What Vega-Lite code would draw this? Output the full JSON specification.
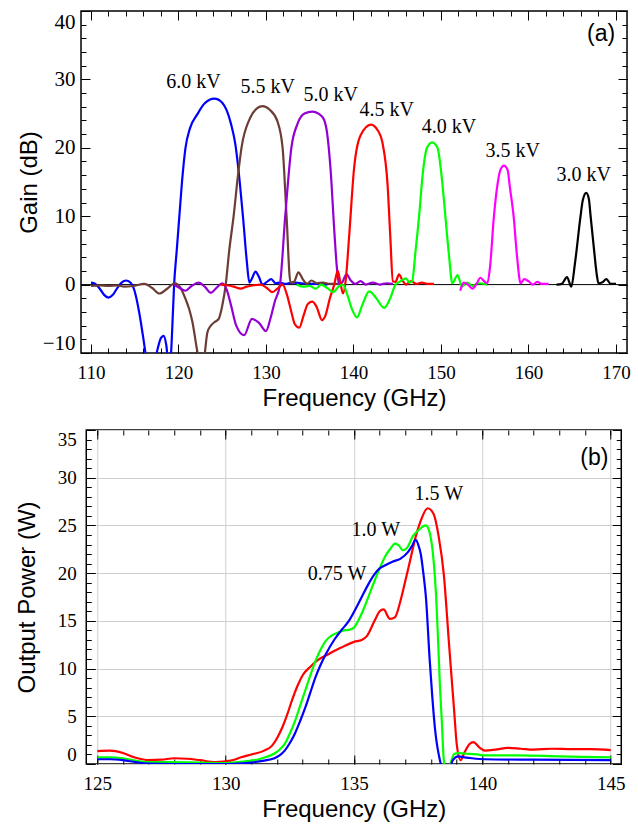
{
"$schema": "https://vega.github.io/schema/vega-lite/v6.json",
"padding": {"left": 14, "top": 9, "right": 0, "bottom": 0},
"spacing": 17,
"center": true,
"resolve": {"scale": {"color": "independent"}},
"config": {
 "view": {"stroke": "black", "strokeWidth": 1.5},
 "axis": {"domain": false, "grid": false, "labelFont": "Liberation Serif", "labelFontSize": 19, "labelColor": "black", "titleFont": "Liberation Sans", "titleFontSize": 24, "titleFontWeight": "normal", "titleColor": "black", "tickColor": "black", "tickWidth": 1},
 "text": {"font": "Liberation Serif", "fontSize": 20, "color": "black"}
},
"datasets": {
 "gain": [
{"f":110,"g":0.3,"s":"6.0 kV"},{"f":110.5,"g":0.1,"s":"6.0 kV"},{"f":111,"g":-0.6,"s":"6.0 kV"},{"f":111.5,"g":-1.5,"s":"6.0 kV"},{"f":112,"g":-1.9,"s":"6.0 kV"},{"f":112.5,"g":-1.5,"s":"6.0 kV"},{"f":113,"g":-0.5,"s":"6.0 kV"},{"f":113.5,"g":0.3,"s":"6.0 kV"},{"f":114,"g":0.6,"s":"6.0 kV"},{"f":114.5,"g":0.3,"s":"6.0 kV"},{"f":115,"g":-1.0,"s":"6.0 kV"},{"f":115.5,"g":-4,"s":"6.0 kV"},{"f":116,"g":-8,"s":"6.0 kV"},{"f":116.4,"g":-11.5,"s":"6.0 kV"},{"f":116.8,"g":-14,"s":"6.0 kV"},{"f":117.2,"g":-12,"s":"6.0 kV"},{"f":117.6,"g":-9.5,"s":"6.0 kV"},{"f":118,"g":-7.8,"s":"6.0 kV"},{"f":118.3,"g":-7.5,"s":"6.0 kV"},{"f":118.6,"g":-8.8,"s":"6.0 kV"},{"f":118.9,"g":-12,"s":"6.0 kV"},{"f":119.1,"g":-11,"s":"6.0 kV"},{"f":119.3,"g":-6,"s":"6.0 kV"},{"f":119.5,"g":0,"s":"6.0 kV"},{"f":119.8,"g":5,"s":"6.0 kV"},{"f":120.1,"g":10,"s":"6.0 kV"},{"f":120.4,"g":15,"s":"6.0 kV"},{"f":120.8,"g":20,"s":"6.0 kV"},{"f":121.3,"g":22.8,"s":"6.0 kV"},{"f":122.2,"g":25,"s":"6.0 kV"},{"f":123,"g":26.5,"s":"6.0 kV"},{"f":124.1,"g":27.2,"s":"6.0 kV"},{"f":125,"g":26.6,"s":"6.0 kV"},{"f":125.5,"g":25.5,"s":"6.0 kV"},{"f":126,"g":23.5,"s":"6.0 kV"},{"f":126.5,"g":20.5,"s":"6.0 kV"},{"f":127,"g":15,"s":"6.0 kV"},{"f":127.4,"g":9.5,"s":"6.0 kV"},{"f":127.8,"g":3.5,"s":"6.0 kV"},{"f":128.1,"g":0.3,"s":"6.0 kV"},{"f":128.4,"g":0.9,"s":"6.0 kV"},{"f":128.8,"g":1.9,"s":"6.0 kV"},{"f":129.2,"g":1.1,"s":"6.0 kV"},{"f":129.6,"g":0.0,"s":"6.0 kV"},{"f":130.1,"g":0.4,"s":"6.0 kV"},{"f":130.6,"g":0.8,"s":"6.0 kV"},{"f":131.1,"g":0.2,"s":"6.0 kV"},{"f":131.6,"g":0.3,"s":"6.0 kV"},{"f":132.2,"g":0.1,"s":"6.0 kV"},{"f":133,"g":0.3,"s":"6.0 kV"},{"f":134,"g":0.2,"s":"6.0 kV"},{"f":135,"g":0.1,"s":"6.0 kV"},{"f":136,"g":0.1,"s":"6.0 kV"},{"f":137,"g":0.0,"s":"6.0 kV"},
{"f":110,"g":-0.2,"s":"5.5 kV"},{"f":111,"g":-0.1,"s":"5.5 kV"},{"f":112,"g":-0.2,"s":"5.5 kV"},{"f":113,"g":-0.1,"s":"5.5 kV"},{"f":113.8,"g":-0.3,"s":"5.5 kV"},{"f":114.8,"g":-0.2,"s":"5.5 kV"},{"f":116.1,"g":0.1,"s":"5.5 kV"},{"f":117,"g":-0.5,"s":"5.5 kV"},{"f":117.8,"g":-1.3,"s":"5.5 kV"},{"f":118.7,"g":-0.6,"s":"5.5 kV"},{"f":119.6,"g":0.2,"s":"5.5 kV"},{"f":120.2,"g":-0.4,"s":"5.5 kV"},{"f":120.8,"g":-2.1,"s":"5.5 kV"},{"f":121.2,"g":-3.5,"s":"5.5 kV"},{"f":121.6,"g":-5.5,"s":"5.5 kV"},{"f":122.1,"g":-9.4,"s":"5.5 kV"},{"f":122.5,"g":-12,"s":"5.5 kV"},{"f":122.9,"g":-11,"s":"5.5 kV"},{"f":123.3,"g":-7,"s":"5.5 kV"},{"f":123.7,"g":-6,"s":"5.5 kV"},{"f":124.1,"g":-5.5,"s":"5.5 kV"},{"f":124.6,"g":-5.0,"s":"5.5 kV"},{"f":125.0,"g":-3.1,"s":"5.5 kV"},{"f":125.4,"g":0,"s":"5.5 kV"},{"f":125.8,"g":5,"s":"5.5 kV"},{"f":126.3,"g":10,"s":"5.5 kV"},{"f":126.8,"g":16,"s":"5.5 kV"},{"f":127.2,"g":20,"s":"5.5 kV"},{"f":128.2,"g":24.4,"s":"5.5 kV"},{"f":129,"g":25.8,"s":"5.5 kV"},{"f":129.6,"g":26.1,"s":"5.5 kV"},{"f":130.4,"g":25.6,"s":"5.5 kV"},{"f":131.3,"g":23.9,"s":"5.5 kV"},{"f":131.9,"g":20,"s":"5.5 kV"},{"f":132.35,"g":10,"s":"5.5 kV"},{"f":132.8,"g":0.3,"s":"5.5 kV"},{"f":133.2,"g":0.4,"s":"5.5 kV"},{"f":133.7,"g":1.8,"s":"5.5 kV"},{"f":134.2,"g":0.8,"s":"5.5 kV"},{"f":134.7,"g":0.1,"s":"5.5 kV"},{"f":135.2,"g":0.6,"s":"5.5 kV"},{"f":135.8,"g":0.2,"s":"5.5 kV"},{"f":136.5,"g":0.3,"s":"5.5 kV"},{"f":137.3,"g":0.1,"s":"5.5 kV"},{"f":138.3,"g":0.1,"s":"5.5 kV"},
{"f":119.5,"g":0,"s":"5.0 kV"},{"f":120,"g":-0.4,"s":"5.0 kV"},{"f":120.8,"g":-0.9,"s":"5.0 kV"},{"f":121.5,"g":-0.2,"s":"5.0 kV"},{"f":122.3,"g":0.3,"s":"5.0 kV"},{"f":123,"g":-0.3,"s":"5.0 kV"},{"f":123.7,"g":-1.2,"s":"5.0 kV"},{"f":124.4,"g":-0.4,"s":"5.0 kV"},{"f":125,"g":0.2,"s":"5.0 kV"},{"f":125.5,"g":-0.7,"s":"5.0 kV"},{"f":126,"g":-3,"s":"5.0 kV"},{"f":126.6,"g":-6,"s":"5.0 kV"},{"f":127.5,"g":-7.4,"s":"5.0 kV"},{"f":128.4,"g":-5,"s":"5.0 kV"},{"f":129.2,"g":-5.6,"s":"5.0 kV"},{"f":130,"g":-6.8,"s":"5.0 kV"},{"f":130.5,"g":-5,"s":"5.0 kV"},{"f":131,"g":-2.5,"s":"5.0 kV"},{"f":131.6,"g":0,"s":"5.0 kV"},{"f":132.2,"g":10,"s":"5.0 kV"},{"f":132.9,"g":20,"s":"5.0 kV"},{"f":133.6,"g":23.5,"s":"5.0 kV"},{"f":134.4,"g":25,"s":"5.0 kV"},{"f":135.3,"g":25.3,"s":"5.0 kV"},{"f":136.0,"g":25.0,"s":"5.0 kV"},{"f":136.6,"g":24.2,"s":"5.0 kV"},{"f":137,"g":22,"s":"5.0 kV"},{"f":137.4,"g":16.5,"s":"5.0 kV"},{"f":137.8,"g":8,"s":"5.0 kV"},{"f":138.1,"g":2.5,"s":"5.0 kV"},{"f":138.35,"g":0,"s":"5.0 kV"},{"f":138.7,"g":0.3,"s":"5.0 kV"},{"f":139.2,"g":1.5,"s":"5.0 kV"},{"f":139.7,"g":0.6,"s":"5.0 kV"},{"f":140.2,"g":0.1,"s":"5.0 kV"},{"f":140.8,"g":0.5,"s":"5.0 kV"},{"f":141.4,"g":0.0,"s":"5.0 kV"},{"f":142.2,"g":0.3,"s":"5.0 kV"},{"f":143,"g":0.0,"s":"5.0 kV"},{"f":143.8,"g":0.2,"s":"5.0 kV"},{"f":144.5,"g":0.1,"s":"5.0 kV"},
{"f":124.8,"g":0,"s":"4.5 kV"},{"f":125.5,"g":-0.1,"s":"4.5 kV"},{"f":126.3,"g":-0.3,"s":"4.5 kV"},{"f":127.1,"g":-0.6,"s":"4.5 kV"},{"f":127.8,"g":-0.3,"s":"4.5 kV"},{"f":128.6,"g":-0.1,"s":"4.5 kV"},{"f":129.4,"g":0,"s":"4.5 kV"},{"f":130.1,"g":-0.5,"s":"4.5 kV"},{"f":130.7,"g":-1.1,"s":"4.5 kV"},{"f":131.3,"g":-0.6,"s":"4.5 kV"},{"f":131.9,"g":0,"s":"4.5 kV"},{"f":132.4,"g":-1.5,"s":"4.5 kV"},{"f":132.9,"g":-4,"s":"4.5 kV"},{"f":133.3,"g":-5.8,"s":"4.5 kV"},{"f":133.8,"g":-6.3,"s":"4.5 kV"},{"f":134.3,"g":-4.5,"s":"4.5 kV"},{"f":134.8,"g":-2.8,"s":"4.5 kV"},{"f":135.3,"g":-2.5,"s":"4.5 kV"},{"f":135.8,"g":-3.3,"s":"4.5 kV"},{"f":136.4,"g":-5.2,"s":"4.5 kV"},{"f":136.8,"g":-4.5,"s":"4.5 kV"},{"f":137.3,"g":-2,"s":"4.5 kV"},{"f":137.8,"g":0,"s":"4.5 kV"},{"f":138.2,"g":2.0,"s":"4.5 kV"},{"f":138.5,"g":0.3,"s":"4.5 kV"},{"f":138.8,"g":-1.3,"s":"4.5 kV"},{"f":139.1,"g":0.5,"s":"4.5 kV"},{"f":139.5,"g":7,"s":"4.5 kV"},{"f":140.06,"g":16.9,"s":"4.5 kV"},{"f":140.8,"g":21.8,"s":"4.5 kV"},{"f":142.0,"g":23.4,"s":"4.5 kV"},{"f":142.8,"g":22.5,"s":"4.5 kV"},{"f":143.3,"g":20.8,"s":"4.5 kV"},{"f":143.9,"g":14.5,"s":"4.5 kV"},{"f":144.2,"g":7.2,"s":"4.5 kV"},{"f":144.5,"g":0.5,"s":"4.5 kV"},{"f":144.8,"g":0.4,"s":"4.5 kV"},{"f":145.2,"g":1.5,"s":"4.5 kV"},{"f":145.6,"g":0.6,"s":"4.5 kV"},{"f":146,"g":0,"s":"4.5 kV"},{"f":146.6,"g":0.5,"s":"4.5 kV"},{"f":147.2,"g":0.1,"s":"4.5 kV"},{"f":147.8,"g":0.3,"s":"4.5 kV"},{"f":148.5,"g":0.1,"s":"4.5 kV"},{"f":149.2,"g":0.1,"s":"4.5 kV"},
{"f":133.5,"g":0,"s":"4.0 kV"},{"f":134.2,"g":-0.3,"s":"4.0 kV"},{"f":135,"g":-0.2,"s":"4.0 kV"},{"f":135.7,"g":-0.6,"s":"4.0 kV"},{"f":136.3,"g":0,"s":"4.0 kV"},{"f":137,"g":-0.5,"s":"4.0 kV"},{"f":137.7,"g":-1.1,"s":"4.0 kV"},{"f":138.3,"g":-0.3,"s":"4.0 kV"},{"f":138.8,"g":0,"s":"4.0 kV"},{"f":139.3,"g":-1.5,"s":"4.0 kV"},{"f":139.8,"g":-3.5,"s":"4.0 kV"},{"f":140.4,"g":-4.8,"s":"4.0 kV"},{"f":141,"g":-3,"s":"4.0 kV"},{"f":141.8,"g":-1.0,"s":"4.0 kV"},{"f":142.5,"g":-1.8,"s":"4.0 kV"},{"f":143.5,"g":-3.4,"s":"4.0 kV"},{"f":144.2,"g":-2,"s":"4.0 kV"},{"f":144.8,"g":0,"s":"4.0 kV"},{"f":145.4,"g":0.5,"s":"4.0 kV"},{"f":146,"g":0.9,"s":"4.0 kV"},{"f":146.4,"g":0.3,"s":"4.0 kV"},{"f":146.7,"g":0.5,"s":"4.0 kV"},{"f":147.1,"g":5,"s":"4.0 kV"},{"f":147.5,"g":10,"s":"4.0 kV"},{"f":147.9,"g":16,"s":"4.0 kV"},{"f":148.4,"g":20,"s":"4.0 kV"},{"f":149,"g":20.8,"s":"4.0 kV"},{"f":149.6,"g":20,"s":"4.0 kV"},{"f":150.1,"g":15.5,"s":"4.0 kV"},{"f":150.5,"g":10,"s":"4.0 kV"},{"f":150.9,"g":4.5,"s":"4.0 kV"},{"f":151.3,"g":0.2,"s":"4.0 kV"},{"f":151.9,"g":1.4,"s":"4.0 kV"},{"f":152.4,"g":-0.3,"s":"4.0 kV"},{"f":153,"g":0.3,"s":"4.0 kV"},{"f":153.6,"g":-0.2,"s":"4.0 kV"},{"f":154.2,"g":0.2,"s":"4.0 kV"},{"f":155.3,"g":0,"s":"4.0 kV"},
{"f":152.2,"g":-0.9,"s":"3.5 kV"},{"f":152.6,"g":0.3,"s":"3.5 kV"},{"f":153,"g":0.1,"s":"3.5 kV"},{"f":153.6,"g":-0.6,"s":"3.5 kV"},{"f":154.1,"g":0.2,"s":"3.5 kV"},{"f":154.5,"g":1.0,"s":"3.5 kV"},{"f":155,"g":0.4,"s":"3.5 kV"},{"f":155.3,"g":0.2,"s":"3.5 kV"},{"f":155.6,"g":2.5,"s":"3.5 kV"},{"f":156.05,"g":10,"s":"3.5 kV"},{"f":156.5,"g":15,"s":"3.5 kV"},{"f":156.8,"g":16.8,"s":"3.5 kV"},{"f":157.2,"g":17.4,"s":"3.5 kV"},{"f":157.6,"g":16.8,"s":"3.5 kV"},{"f":157.9,"g":14,"s":"3.5 kV"},{"f":158.3,"g":10,"s":"3.5 kV"},{"f":158.7,"g":4,"s":"3.5 kV"},{"f":159.1,"g":0.2,"s":"3.5 kV"},{"f":159.5,"g":0.8,"s":"3.5 kV"},{"f":160,"g":0.5,"s":"3.5 kV"},{"f":160.5,"g":0,"s":"3.5 kV"},{"f":161,"g":0.4,"s":"3.5 kV"},{"f":161.5,"g":0.1,"s":"3.5 kV"},{"f":162.3,"g":0.1,"s":"3.5 kV"},
{"f":163.2,"g":0,"s":"3.0 kV"},{"f":163.8,"g":0.1,"s":"3.0 kV"},{"f":164.4,"g":1.1,"s":"3.0 kV"},{"f":164.9,"g":-0.3,"s":"3.0 kV"},{"f":165.3,"g":3,"s":"3.0 kV"},{"f":165.95,"g":10,"s":"3.0 kV"},{"f":166.2,"g":12.3,"s":"3.0 kV"},{"f":166.6,"g":13.4,"s":"3.0 kV"},{"f":166.9,"g":12.5,"s":"3.0 kV"},{"f":167.1,"g":10,"s":"3.0 kV"},{"f":167.5,"g":5,"s":"3.0 kV"},{"f":167.8,"g":1.5,"s":"3.0 kV"},{"f":168,"g":0.2,"s":"3.0 kV"},{"f":168.4,"g":0.3,"s":"3.0 kV"},{"f":168.9,"g":0.8,"s":"3.0 kV"},{"f":169.4,"g":0.1,"s":"3.0 kV"},{"f":170,"g":0.1,"s":"3.0 kV"}
 ],
 "labA": [
{"f":121.7,"g":29.6,"t":"6.0 kV"},{"f":130.2,"g":28.9,"t":"5.5 kV"},{"f":137.4,"g":27.7,"t":"5.0 kV"},{"f":143.8,"g":25.5,"t":"4.5 kV"},{"f":150.9,"g":23.0,"t":"4.0 kV"},{"f":158.2,"g":19.6,"t":"3.5 kV"},{"f":166.3,"g":16.0,"t":"3.0 kV"}
 ],
 "tagA": [{"f":168.3,"g":36.7,"t":"(a)"}],
 "power": [
{"f":125,"p":1.35,"s":"1.5 W"},{"f":125.5,"p":1.4,"s":"1.5 W"},{"f":126,"p":1.15,"s":"1.5 W"},{"f":126.5,"p":0.65,"s":"1.5 W"},{"f":127,"p":0.4,"s":"1.5 W"},{"f":127.5,"p":0.45,"s":"1.5 W"},{"f":128,"p":0.6,"s":"1.5 W"},{"f":128.5,"p":0.55,"s":"1.5 W"},{"f":129,"p":0.4,"s":"1.5 W"},{"f":129.6,"p":0.2,"s":"1.5 W"},{"f":130.2,"p":0.35,"s":"1.5 W"},{"f":130.6,"p":0.7,"s":"1.5 W"},{"f":131,"p":1.0,"s":"1.5 W"},{"f":131.5,"p":1.4,"s":"1.5 W"},{"f":131.8,"p":1.9,"s":"1.5 W"},{"f":132.0,"p":2.7,"s":"1.5 W"},{"f":132.2,"p":3.8,"s":"1.5 W"},{"f":132.4,"p":5.2,"s":"1.5 W"},{"f":132.6,"p":6.8,"s":"1.5 W"},{"f":132.8,"p":8.2,"s":"1.5 W"},{"f":133.0,"p":9.3,"s":"1.5 W"},{"f":133.3,"p":10.2,"s":"1.5 W"},{"f":133.6,"p":10.9,"s":"1.5 W"},{"f":134.0,"p":11.5,"s":"1.5 W"},{"f":134.5,"p":12.2,"s":"1.5 W"},{"f":135.0,"p":12.8,"s":"1.5 W"},{"f":135.3,"p":13.0,"s":"1.5 W"},{"f":135.5,"p":13.4,"s":"1.5 W"},{"f":135.8,"p":15.0,"s":"1.5 W"},{"f":136.0,"p":16.0,"s":"1.5 W"},{"f":136.15,"p":16.2,"s":"1.5 W"},{"f":136.4,"p":15.2,"s":"1.5 W"},{"f":136.6,"p":15.4,"s":"1.5 W"},{"f":136.8,"p":17.0,"s":"1.5 W"},{"f":137.0,"p":19.2,"s":"1.5 W"},{"f":137.2,"p":21.5,"s":"1.5 W"},{"f":137.4,"p":23.8,"s":"1.5 W"},{"f":137.6,"p":25.5,"s":"1.5 W"},{"f":137.87,"p":26.8,"s":"1.5 W"},{"f":138.1,"p":26.2,"s":"1.5 W"},{"f":138.3,"p":23.8,"s":"1.5 W"},{"f":138.5,"p":19.8,"s":"1.5 W"},{"f":138.7,"p":12.6,"s":"1.5 W"},{"f":138.9,"p":5.6,"s":"1.5 W"},{"f":139.0,"p":2.1,"s":"1.5 W"},{"f":139.15,"p":0.4,"s":"1.5 W"},{"f":139.3,"p":1.2,"s":"1.5 W"},{"f":139.5,"p":2.1,"s":"1.5 W"},{"f":139.65,"p":2.3,"s":"1.5 W"},{"f":139.9,"p":1.7,"s":"1.5 W"},{"f":140.1,"p":1.4,"s":"1.5 W"},{"f":140.5,"p":1.5,"s":"1.5 W"},{"f":141,"p":1.7,"s":"1.5 W"},{"f":141.5,"p":1.6,"s":"1.5 W"},{"f":142,"p":1.5,"s":"1.5 W"},{"f":142.7,"p":1.6,"s":"1.5 W"},{"f":143.5,"p":1.55,"s":"1.5 W"},{"f":144.2,"p":1.55,"s":"1.5 W"},{"f":145,"p":1.45,"s":"1.5 W"},
{"f":125,"p":0.7,"s":"1.0 W"},{"f":125.5,"p":0.7,"s":"1.0 W"},{"f":126,"p":0.6,"s":"1.0 W"},{"f":126.5,"p":0.35,"s":"1.0 W"},{"f":127,"p":0.2,"s":"1.0 W"},{"f":128,"p":0.2,"s":"1.0 W"},{"f":129,"p":0.15,"s":"1.0 W"},{"f":130,"p":0.1,"s":"1.0 W"},{"f":130.5,"p":0.2,"s":"1.0 W"},{"f":131,"p":0.35,"s":"1.0 W"},{"f":131.3,"p":0.5,"s":"1.0 W"},{"f":131.6,"p":0.75,"s":"1.0 W"},{"f":131.9,"p":1.1,"s":"1.0 W"},{"f":132.1,"p":1.5,"s":"1.0 W"},{"f":132.3,"p":2.1,"s":"1.0 W"},{"f":132.5,"p":3.2,"s":"1.0 W"},{"f":132.7,"p":4.5,"s":"1.0 W"},{"f":132.9,"p":6.1,"s":"1.0 W"},{"f":133.1,"p":7.7,"s":"1.0 W"},{"f":133.3,"p":9.3,"s":"1.0 W"},{"f":133.5,"p":10.8,"s":"1.0 W"},{"f":133.7,"p":12.0,"s":"1.0 W"},{"f":133.9,"p":12.9,"s":"1.0 W"},{"f":134.15,"p":13.5,"s":"1.0 W"},{"f":134.4,"p":13.8,"s":"1.0 W"},{"f":134.6,"p":14.0,"s":"1.0 W"},{"f":134.8,"p":14.05,"s":"1.0 W"},{"f":135.0,"p":14.3,"s":"1.0 W"},{"f":135.2,"p":15.2,"s":"1.0 W"},{"f":135.4,"p":16.4,"s":"1.0 W"},{"f":135.6,"p":17.8,"s":"1.0 W"},{"f":135.8,"p":19.2,"s":"1.0 W"},{"f":136.0,"p":20.5,"s":"1.0 W"},{"f":136.2,"p":21.7,"s":"1.0 W"},{"f":136.4,"p":22.5,"s":"1.0 W"},{"f":136.6,"p":23.1,"s":"1.0 W"},{"f":136.75,"p":22.9,"s":"1.0 W"},{"f":136.9,"p":22.4,"s":"1.0 W"},{"f":137.05,"p":22.6,"s":"1.0 W"},{"f":137.3,"p":23.9,"s":"1.0 W"},{"f":137.55,"p":24.6,"s":"1.0 W"},{"f":137.8,"p":25.0,"s":"1.0 W"},{"f":137.95,"p":24.2,"s":"1.0 W"},{"f":138.1,"p":21.3,"s":"1.0 W"},{"f":138.2,"p":17.5,"s":"1.0 W"},{"f":138.28,"p":12.6,"s":"1.0 W"},{"f":138.35,"p":8,"s":"1.0 W"},{"f":138.42,"p":4.5,"s":"1.0 W"},{"f":138.5,"p":0.35,"s":"1.0 W"},{"f":138.6,"p":-0.6,"s":"1.0 W"},{"f":138.75,"p":0.0,"s":"1.0 W"},{"f":138.9,"p":1.06,"s":"1.0 W"},{"f":139.05,"p":1.15,"s":"1.0 W"},{"f":139.3,"p":1.1,"s":"1.0 W"},{"f":139.8,"p":1.0,"s":"1.0 W"},{"f":140.1,"p":0.9,"s":"1.0 W"},{"f":141.4,"p":0.9,"s":"1.0 W"},{"f":143,"p":0.8,"s":"1.0 W"},{"f":145,"p":0.7,"s":"1.0 W"},
{"f":125,"p":0.5,"s":"0.75 W"},{"f":125.5,"p":0.5,"s":"0.75 W"},{"f":126,"p":0.4,"s":"0.75 W"},{"f":126.5,"p":0.2,"s":"0.75 W"},{"f":127,"p":0.05,"s":"0.75 W"},{"f":128,"p":0.0,"s":"0.75 W"},{"f":129,"p":0.0,"s":"0.75 W"},{"f":130,"p":0.0,"s":"0.75 W"},{"f":130.5,"p":0.05,"s":"0.75 W"},{"f":131,"p":0.15,"s":"0.75 W"},{"f":131.5,"p":0.35,"s":"0.75 W"},{"f":131.9,"p":0.6,"s":"0.75 W"},{"f":132.1,"p":0.9,"s":"0.75 W"},{"f":132.3,"p":1.4,"s":"0.75 W"},{"f":132.5,"p":2.2,"s":"0.75 W"},{"f":132.7,"p":3.2,"s":"0.75 W"},{"f":132.9,"p":4.5,"s":"0.75 W"},{"f":133.1,"p":5.9,"s":"0.75 W"},{"f":133.3,"p":7.5,"s":"0.75 W"},{"f":133.5,"p":9.1,"s":"0.75 W"},{"f":133.7,"p":10.4,"s":"0.75 W"},{"f":133.9,"p":11.5,"s":"0.75 W"},{"f":134.25,"p":13.1,"s":"0.75 W"},{"f":134.5,"p":14.0,"s":"0.75 W"},{"f":134.8,"p":15.0,"s":"0.75 W"},{"f":135.05,"p":16.2,"s":"0.75 W"},{"f":135.3,"p":17.5,"s":"0.75 W"},{"f":135.55,"p":18.8,"s":"0.75 W"},{"f":135.8,"p":19.9,"s":"0.75 W"},{"f":136.0,"p":20.5,"s":"0.75 W"},{"f":136.2,"p":20.8,"s":"0.75 W"},{"f":136.5,"p":21.2,"s":"0.75 W"},{"f":136.8,"p":21.5,"s":"0.75 W"},{"f":137.1,"p":22.2,"s":"0.75 W"},{"f":137.25,"p":22.8,"s":"0.75 W"},{"f":137.4,"p":23.5,"s":"0.75 W"},{"f":137.5,"p":23.0,"s":"0.75 W"},{"f":137.6,"p":22.0,"s":"0.75 W"},{"f":137.7,"p":20.0,"s":"0.75 W"},{"f":137.8,"p":17.5,"s":"0.75 W"},{"f":137.95,"p":10.8,"s":"0.75 W"},{"f":138.05,"p":7,"s":"0.75 W"},{"f":138.15,"p":3.8,"s":"0.75 W"},{"f":138.35,"p":0.35,"s":"0.75 W"},{"f":138.5,"p":-0.8,"s":"0.75 W"},{"f":138.7,"p":-0.6,"s":"0.75 W"},{"f":138.85,"p":0.4,"s":"0.75 W"},{"f":139.06,"p":0.8,"s":"0.75 W"},{"f":139.3,"p":0.7,"s":"0.75 W"},{"f":139.6,"p":0.6,"s":"0.75 W"},{"f":140.1,"p":0.5,"s":"0.75 W"},{"f":142,"p":0.45,"s":"0.75 W"},{"f":145,"p":0.4,"s":"0.75 W"}
 ],
 "labB": [
{"f":138.3,"p":28.3,"t":"1.5 W"},{"f":135.85,"p":24.5,"t":"1.0 W"},{"f":134.34,"p":19.9,"t":"0.75 W"}
 ],
 "tagB": [{"f":144.36,"p":32.1,"t":"(b)"}],
 "zero": [{"z":0}]
},
"vconcat": [
{
 "width": 546, "height": 342,
 "resolve": {"axis": {"x": "independent", "y": "independent"}},
 "layer": [
  {"data": {"name": "zero"}, "mark": {"type": "rule", "color": "black", "strokeWidth": 1},
   "encoding": {"y": {"field": "z", "type": "quantitative", "scale": {"domain": [-10, 40], "nice": false, "zero": false}, "axis": null}}},
  {"data": {"name": "gain"}, "mark": {"type": "line", "clip": true, "strokeWidth": 2.2, "interpolate": "monotone"},
   "encoding": {
    "x": {"field": "f", "type": "quantitative", "scale": {"domain": [108.86, 171.26], "nice": false, "zero": false},
          "axis": {"orient": "bottom", "values": [110,120,130,140,150,160,170], "title": "Frequency (GHz)", "tickSize": -9, "labelPadding": 19, "titlePadding": 4}},
    "y": {"field": "g", "type": "quantitative", "scale": {"domain": [-10, 40], "nice": false, "zero": false},
          "axis": {"orient": "left", "values": [-10,0,10,20,30,40], "title": "Gain (dB)", "tickSize": -9, "labelPadding": 15, "labelFontSize": 21, "labelFlush": true, "minExtent": 38, "maxExtent": 38, "titlePadding": 2}},
    "color": {"field": "s", "type": "nominal", "legend": null,
      "scale": {"domain": ["6.0 kV","5.5 kV","5.0 kV","4.5 kV","4.0 kV","3.5 kV","3.0 kV"], "range": ["#0000ff","#6b3d34","#9400d3","#ff0000","#00ff00","#ff00ff","#000000"]}}
   }},
  {"data": {"name": "labA"}, "mark": {"type": "text", "font": "Liberation Serif", "fontSize": 20},
   "encoding": {
    "x": {"field": "f", "type": "quantitative", "scale": {"domain": [108.86, 171.26], "nice": false, "zero": false},
          "axis": {"orient": "top", "values": [110,120,130,140,150,160,170], "labels": false, "title": null, "tickSize": -9}},
    "y": {"field": "g", "type": "quantitative", "scale": {"domain": [-10, 40], "nice": false, "zero": false},
          "axis": {"orient": "right", "values": [-10,0,10,20,30,40], "labels": false, "title": null, "tickSize": -9}},
    "text": {"field": "t"}
   }},
  {"data": {"name": "tagA"}, "mark": {"type": "text", "font": "Liberation Sans", "fontSize": 23},
   "encoding": {
    "x": {"field": "f", "type": "quantitative", "scale": {"domain": [108.86, 171.26], "nice": false, "zero": false},
          "axis": {"orient": "bottom", "values": [110,112,114,116,118,120,122,124,126,128,130,132,134,136,138,140,142,144,146,148,150,152,154,156,158,160,162,164,166,168,170], "labels": false, "title": null, "tickSize": -5}},
    "y": {"field": "g", "type": "quantitative", "scale": {"domain": [-10, 40], "nice": false, "zero": false},
          "axis": {"orient": "left", "values": [-10,-8,-6,-4,-2,0,2,4,6,8,10,12,14,16,18,20,22,24,26,28,30,32,34,36,38,40], "labels": false, "title": null, "tickSize": -5}},
    "text": {"field": "t"}
   }},
  {"data": {"name": "tagA"}, "mark": {"type": "point", "opacity": 0},
   "encoding": {
    "x": {"field": "f", "type": "quantitative", "scale": {"domain": [108.86, 171.26], "nice": false, "zero": false},
          "axis": {"orient": "top", "values": [110,112,114,116,118,120,122,124,126,128,130,132,134,136,138,140,142,144,146,148,150,152,154,156,158,160,162,164,166,168,170], "labels": false, "title": null, "tickSize": -5}},
    "y": {"field": "g", "type": "quantitative", "scale": {"domain": [-10, 40], "nice": false, "zero": false},
          "axis": {"orient": "right", "values": [-10,-8,-6,-4,-2,0,2,4,6,8,10,12,14,16,18,20,22,24,26,28,30,32,34,36,38,40], "labels": false, "title": null, "tickSize": -5}}
   }}
 ]
},
{
 "width": 535, "height": 334,
 "resolve": {"axis": {"x": "independent", "y": "independent"}},
 "layer": [
  {"data": {"name": "power"}, "mark": {"type": "line", "clip": true, "strokeWidth": 2.2, "interpolate": "monotone"},
   "encoding": {
    "x": {"field": "f", "type": "quantitative", "scale": {"domain": [124.57, 145.41], "nice": false, "zero": false},
          "axis": {"orient": "bottom", "values": [125,130,135,140,145], "title": "Frequency (GHz)", "tickSize": -9, "labelPadding": 19, "titlePadding": 4, "grid": true, "gridColor": "#cfcfcf", "gridWidth": 1}},
    "y": {"field": "p", "type": "quantitative", "scale": {"domain": [0, 35], "nice": false, "zero": false},
          "axis": {"orient": "left", "values": [0,5,10,15,20,25,30,35], "title": "Output Power (W)", "tickSize": -9, "labelPadding": 19, "labelFlush": true, "minExtent": 45, "maxExtent": 45, "titlePadding": 2, "grid": true, "gridColor": "#cfcfcf", "gridWidth": 1}},
    "color": {"field": "s", "type": "nominal", "legend": null,
      "scale": {"domain": ["0.75 W","1.0 W","1.5 W"], "range": ["#0000ff","#00ff00","#ff0000"]}}
   }},
  {"data": {"name": "labB"}, "mark": {"type": "text", "font": "Liberation Serif", "fontSize": 20},
   "encoding": {
    "x": {"field": "f", "type": "quantitative", "scale": {"domain": [124.57, 145.41], "nice": false, "zero": false},
          "axis": {"orient": "top", "values": [125,130,135,140,145], "labels": false, "title": null, "tickSize": -9}},
    "y": {"field": "p", "type": "quantitative", "scale": {"domain": [0, 35], "nice": false, "zero": false},
          "axis": {"orient": "right", "values": [0,5,10,15,20,25,30,35], "labels": false, "title": null, "tickSize": -9}},
    "text": {"field": "t"}
   }},
  {"data": {"name": "tagB"}, "mark": {"type": "text", "font": "Liberation Sans", "fontSize": 23},
   "encoding": {
    "x": {"field": "f", "type": "quantitative", "scale": {"domain": [124.57, 145.41], "nice": false, "zero": false},
          "axis": {"orient": "bottom", "values": [125,126,127,128,129,130,131,132,133,134,135,136,137,138,139,140,141,142,143,144,145], "labels": false, "title": null, "tickSize": -5}},
    "y": {"field": "p", "type": "quantitative", "scale": {"domain": [0, 35], "nice": false, "zero": false},
          "axis": {"orient": "left", "values": [0,1,2,3,4,5,6,7,8,9,10,11,12,13,14,15,16,17,18,19,20,21,22,23,24,25,26,27,28,29,30,31,32,33,34,35], "labels": false, "title": null, "tickSize": -5}},
    "text": {"field": "t"}
   }},
  {"data": {"name": "tagB"}, "mark": {"type": "point", "opacity": 0},
   "encoding": {
    "x": {"field": "f", "type": "quantitative", "scale": {"domain": [124.57, 145.41], "nice": false, "zero": false},
          "axis": {"orient": "top", "values": [125,126,127,128,129,130,131,132,133,134,135,136,137,138,139,140,141,142,143,144,145], "labels": false, "title": null, "tickSize": -5}},
    "y": {"field": "p", "type": "quantitative", "scale": {"domain": [0, 35], "nice": false, "zero": false},
          "axis": {"orient": "right", "values": [0,1,2,3,4,5,6,7,8,9,10,11,12,13,14,15,16,17,18,19,20,21,22,23,24,25,26,27,28,29,30,31,32,33,34,35], "labels": false, "title": null, "tickSize": -5}}
   }}
 ]
}
]
}
